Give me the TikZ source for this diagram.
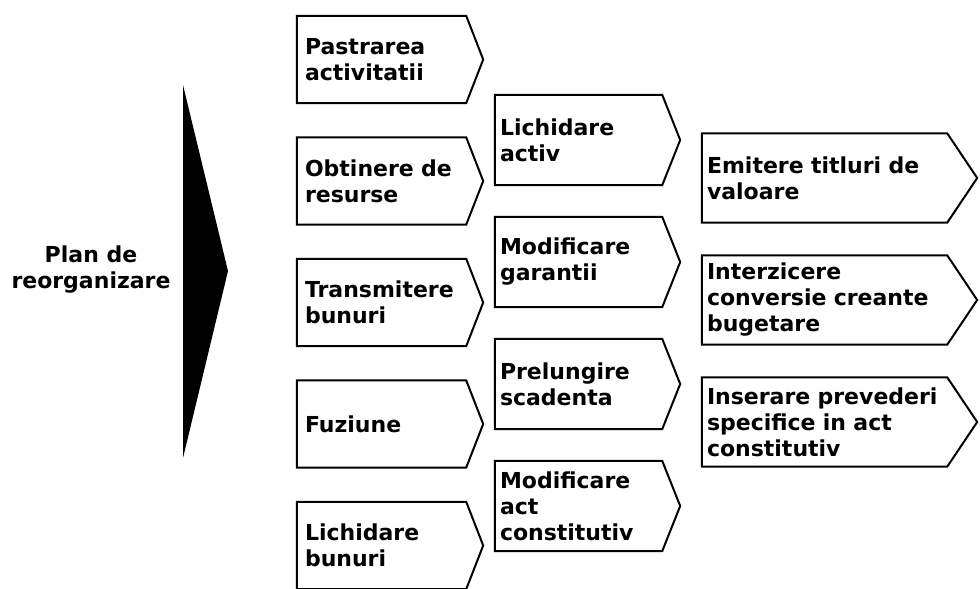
\documentclass[tikz,border=0pt]{standalone}
\usepackage{fontspec}
\setmainfont{DejaVu Sans}
\usepackage{tikz}
\usetikzlibrary{positioning}

\begin{document}
\begin{tikzpicture}[x=1pt,y=-1pt]
  \tikzset{
    txt/.style={font=\fontsize{22}{26}\selectfont\bfseries, execute at begin node={\hyphenpenalty=10000}},
    colA/.style={txt, rectangle, minimum width=169pt, minimum height=87pt, inner xsep=8pt, text width=153pt, align=left, node distance=121.5pt},
    colB/.style={txt, rectangle, minimum width=167pt, minimum height=90pt, inner xsep=5pt, text width=157pt, align=left, node distance=122pt},
    colC/.style={txt, rectangle, minimum width=245pt, minimum height=89pt, inner xsep=5pt, text width=235pt, align=left, node distance=122pt},
    chevron/.style={draw, line width=2pt, line join=miter},
  }
  \useasboundingbox (0,0) rectangle (980,589);
  \clip (0,0) rectangle (980,589);

  % big arrow and its label
  \fill (183,85) -- (228,271) -- (183,458) -- cycle;
  \node [txt, align=center] (plan) at (91,270) {Plan de\\reorganizare};

  % first column
  \node [colA] (pastrare) at (381.5,59.5) {Pastrarea\\activitatii};
  \node [colA, below of=pastrare] (obtinere) {Obtinere de\\resurse};
  \node [colA, below of=obtinere] (transmitere) {Transmitere\\bunuri};
  \node [colA, below of=transmitere] (fuziune) {Fuziune};
  \node [colA, below of=fuziune] (lichbun) {Lichidare\\bunuri};

  % second column
  \node [colB] (lichact) at (578.5,140) {Lichidare\\activ};
  \node [colB, below of=lichact] (garantii) {Modificare\\garantii};
  \node [colB, below of=garantii] (scadenta) {Prelungire\\scadenta};
  \node [colB, below of=scadenta] (actconst) {Modificare\\act\\constitutiv};

  % third column
  \node [colC] (emitere) at (824.5,178) {Emitere titluri de\\valoare};
  \node [colC, below of=emitere] (interzicere) {Interzicere\\conversie creante\\bugetare};
  \node [colC, below of=interzicere] (inserare) {Inserare prevederi\\specifice in act\\constitutiv};

  \foreach \n/\t in {pastrare/17, obtinere/17, transmitere/17, fuziune/17, lichbun/17,
                     lichact/18, garantii/18, scadenta/18, actconst/18,
                     emitere/30, interzicere/30, inserare/30}
    \draw [chevron] (\n.north west) -- (\n.north east) -- ([xshift=\t pt]\n.east)
      -- (\n.south east) -- (\n.south west) -- cycle;

\end{tikzpicture}
\end{document}
